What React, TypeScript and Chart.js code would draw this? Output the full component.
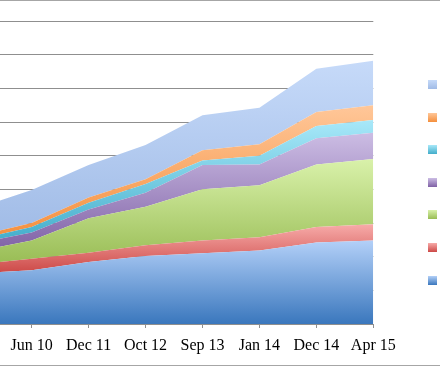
import React, { useEffect, useRef } from 'react';
import { Chart, registerables } from 'chart.js';

Chart.register(...registerables);

// x categories (first one is cut off at the left edge in the reference)
const categories = ['', 'Jun 10', 'Dec 11', 'Oct 12', 'Sep 13', 'Jan 14', 'Dec 14', 'Apr 15'];

// series, bottom to top
const seriesNames = ['Series 1', 'Series 2', 'Series 3', 'Series 4', 'Series 5', 'Series 6', 'Series 7'];
const seriesBlue = [75, 80, 92, 101, 105, 109, 121, 124];
const seriesRed = [13, 17, 14, 16, 19, 20, 23, 24];
const seriesGreen = [19, 27, 51, 57, 76, 77, 93, 97];
const seriesPurple = [12, 12, 13, 21, 36, 31, 39, 39];
const seriesCyan = [6, 8, 10, 13, 7, 13, 18, 19];
const seriesOrange = [5, 6, 8, 7, 15, 17, 21, 22];
const seriesTop = [41, 49, 48, 51, 52, 54, 64, 66];

const allSeries = [seriesBlue, seriesRed, seriesGreen, seriesPurple, seriesCyan, seriesOrange, seriesTop];

// gradient colours: [top (light), bottom (dark)]
const palette: [string, string][] = [
  ['#b3d0f8', '#3a77bd'],
  ['#f7aba9', '#cc4846'],
  ['#d9f1aa', '#98bc54'],
  ['#ccbde4', '#7f61a5'],
  ['#a8e8f9', '#42adca'],
  ['#ffc799', '#f48f3d'],
  ['#c6daf9', '#a0bbe6'],
];

const yMax = 450;
const yStep = 50;

function cumulative(upto: number): number[] {
  return categories.map((_, j) => {
    let s = 0;
    for (let k = 0; k <= upto; k++) s += allSeries[k][j];
    return s;
  });
}

function makeBg(i: number) {
  return (ctx: any) => {
    const chart = ctx.chart;
    const y = chart.scales && chart.scales.y;
    if (!chart.chartArea || !y) return palette[i][1];
    const tops = cumulative(i).map((v) => y.getPixelForValue(v));
    const bottoms = i === 0 ? categories.map(() => y.getPixelForValue(0)) : cumulative(i - 1).map((v) => y.getPixelForValue(v));
    const top = Math.min(...tops);
    const bottom = Math.max(...bottoms);
    const g = chart.ctx.createLinearGradient(0, top, 0, bottom);
    g.addColorStop(0, palette[i][0]);
    g.addColorStop(1, palette[i][1]);
    return g;
  };
}

const decorPlugin = {
  id: 'decor',
  afterDraw(chart: any) {
    const ctx = chart.ctx as CanvasRenderingContext2D;
    ctx.save();
    // outer chart border (top / bottom visible)
    ctx.fillStyle = '#a6a6a6';
    ctx.fillRect(0, 0, chart.width, 1);
    ctx.fillRect(0, chart.height - 1, chart.width, 1);
    // legend swatches (top series first)
    const n = allSeries.length;
    const boxX = 428;
    const boxSize = 9;
    const firstTop = 80;
    const gap = 32.6;
    for (let k = 0; k < n; k++) {
      const i = n - 1 - k;
      const yTop = Math.round(firstTop + k * gap);
      const g = ctx.createLinearGradient(0, yTop, 0, yTop + boxSize);
      g.addColorStop(0, palette[i][0]);
      g.addColorStop(1, palette[i][1]);
      ctx.fillStyle = g;
      ctx.fillRect(boxX, yTop, boxSize, boxSize);
    }
    ctx.restore();
  },
};

export default function App() {
  const ref = useRef<HTMLCanvasElement | null>(null);

  useEffect(() => {
    if (!ref.current) return;
    const datasets = allSeries.map((vals, i) => ({
      label: seriesNames[i],
      data: vals.map((v, j) => ({ x: j, y: v })),
      fill: i === 0 ? 'origin' : '-1',
      backgroundColor: makeBg(i),
      borderWidth: 0,
      pointRadius: 0,
      tension: 0,
    }));

    const chart = new Chart(ref.current, {
      type: 'line',
      data: { datasets } as any,
      options: {
        responsive: false,
        animation: false,
        events: [],
        layout: { padding: { left: 0, top: 21, right: 66.7, bottom: 2.8 } },
        plugins: {
          legend: { display: false },
          tooltip: { enabled: false },
          title: { display: false },
        },
        scales: {
          x: {
            type: 'linear',
            min: 0.4437,
            max: categories.length - 1,
            afterBuildTicks: (axis: any) => {
              axis.ticks = categories.map((_, j) => ({ value: j })).filter((t) => t.value >= 1);
            },
            ticks: {
              autoSkip: false,
              maxRotation: 0,
              padding: 8,
              color: '#000000',
              font: { family: 'Liberation Serif', size: 16 },
              callback: (v: any) => categories[Math.round(Number(v))] ?? '',
            },
            grid: {
              drawOnChartArea: false,
              drawTicks: true,
              tickLength: 4,
              color: '#8f8f8f',
            },
            border: { display: true, color: '#8f8f8f', width: 1 },
          },
          y: {
            stacked: true,
            min: 0,
            max: yMax,
            ticks: { display: false, stepSize: yStep },
            grid: { color: '#8f8f8f', drawTicks: false, lineWidth: 1 },
            border: { display: false },
          },
        },
      } as any,
      plugins: [decorPlugin],
    });
    return () => chart.destroy();
  }, []);

  return (
    <div style={{ position: 'fixed', left: 0, top: 0, width: 440, height: 366, overflow: 'hidden', background: '#ffffff' }}>
      <canvas ref={ref} width={440} height={366} style={{ display: 'block' }} />
    </div>
  );
}
